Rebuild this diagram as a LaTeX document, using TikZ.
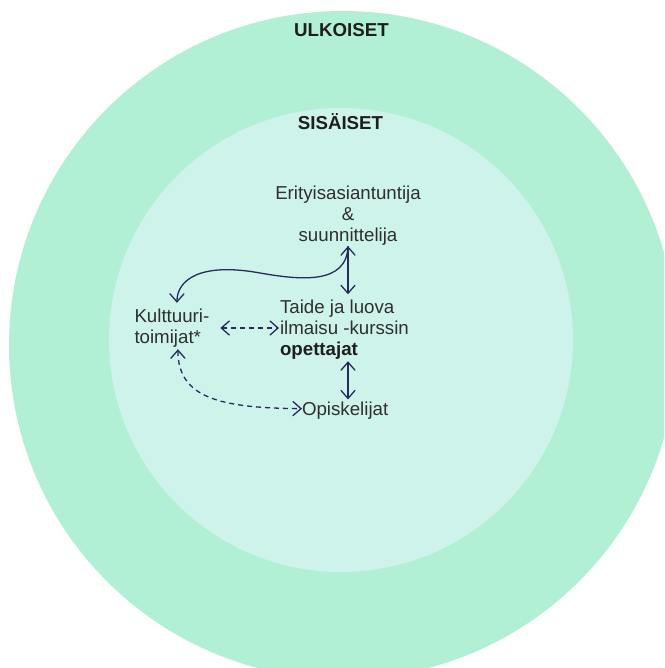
\documentclass[tikz,border=0pt]{standalone}
\usepackage{fontspec}
\setmainfont{Liberation Sans}
\usetikzlibrary{arrows.meta,calc}
\definecolor{outerfill}{HTML}{B1F0D5}
\definecolor{innerfill}{HTML}{CEF3EB}
\definecolor{linkcol}{HTML}{262B5C}
\definecolor{txtcol}{HTML}{2F2F2F}
\definecolor{headcol}{HTML}{1E1E1E}
\tikzset{
  every node/.style={inner sep=0pt, outer sep=0pt},
  label text/.style={font=\fontsize{18.7}{21}\selectfont, text=txtcol},
  head text/.style={font=\fontsize{18.7}{21}\selectfont\bfseries, text=headcol},
  barb/.tip={Straight Barb[length=8pt,width=14pt,line cap=round]},
  link/.style={draw=linkcol, line width=1.3pt, arrows={-barb}},
  twoway/.style={link, arrows={barb-barb}},
  dashlink/.style={dash pattern=on 5pt off 4pt},
}
\begin{document}
\begin{tikzpicture}[x=1pt,y=-1pt]
  \useasboundingbox (0,0) rectangle (664,668);
  \fill[white] (0,0) rectangle (664,668);
  \clip (0,0) rectangle (664,668);

  % the two stakeholder rings
  \fill[outerfill] (343,345) circle[radius=334pt];
  \fill[innerfill] (341,340) circle[radius=232pt];

  \node[head text, anchor=base] (ulk) at (341.5,36.7) {ULKOISET};
  \node[head text, anchor=base] (sis) at (340.5,129.5) {SISÄISET};

  % actors
  \node[label text, align=center, anchor=north] (eri) at (348,185.7)
    {Erityisasiantuntija\\\&\\suunnittelija};
  \node[label text, align=left, anchor=north west] (ope) at (280,299.8)
    {Taide ja luova\\ilmaisu -kurssin\\{\bfseries\color{headcol}opettajat}};
  \node[label text, align=left, anchor=north west] (kul) at (134.5,308.8)
    {Kulttuuri-\\toimijat*};
  \node[label text, anchor=base west] (opi) at (302,415) {Opiskelijat};

  % connections
  \coordinate (eriS) at ([yshift=-1pt]eri.south);
  \draw[twoway] (eriS) -- ($(eri.south |- ope.north)+(0,-5.5)$);
  \draw[link] (eriS) .. controls (347,285) and (300,280) .. (260,273)
    .. controls (200,262) and (177,280) .. ([xshift=5pt,yshift=6pt]kul.north);
  \draw[twoway, dashlink] ([xshift=11pt]kul.east) -- ([xshift=-1pt]kul.east -| ope.west);
  \draw[twoway] ($(eri.south |- ope.south)+(0,2)$) -- ($(eri.south |- opi.north)+(0,-2)$);
  \draw[twoway, dashlink] ([xshift=6pt,yshift=-2pt]kul.south)
    .. controls (178,398) and (220,408) .. ([yshift=1.5pt]opi.west);
\end{tikzpicture}
\end{document}
